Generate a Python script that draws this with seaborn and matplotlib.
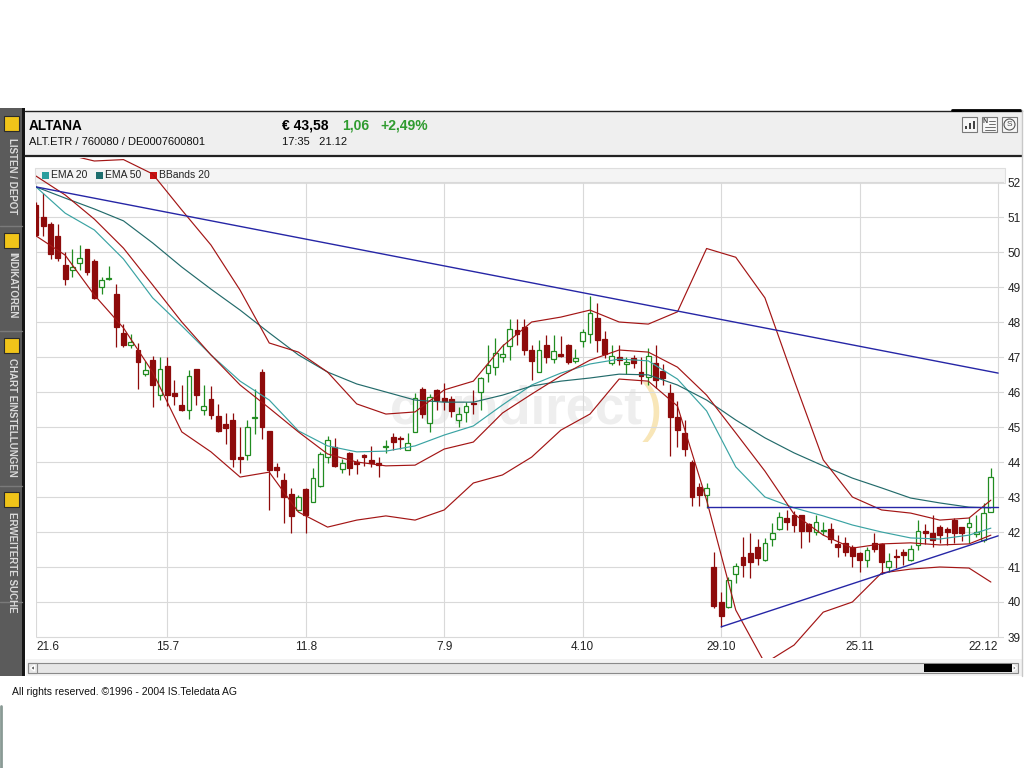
import numpy as np
import pandas as pd
import matplotlib
matplotlib.use("Agg")
import matplotlib.pyplot as plt
import seaborn as sns
from matplotlib.patches import Rectangle, Circle, Polygon

opens = [51.35, 51.0, 50.8, 50.45, 49.63, 49.49, 49.68, 50.08, 49.75, 49.01,
         49.22, 48.8, 47.7, 47.33, 47.2, 46.51, 46.91, 45.91, 46.74, 45.97,
         45.63, 45.49, 46.65, 45.49, 45.79, 45.31, 45.09, 45.2, 44.15, 44.2,
         45.25, 46.58, 44.89, 43.87, 43.49, 43.09, 42.63, 43.22, 42.87, 43.31,
         44.13, 44.42, 43.79, 44.25, 43.99, 44.2, 44.06, 43.97, 44.42, 44.72,
         44.7, 44.34, 44.87, 46.1, 45.12, 46.06, 45.83, 45.79, 45.2, 45.44,
         45.7, 46.01, 46.55, 46.71, 46.99, 47.31, 47.77, 47.87, 47.2, 46.58,
         47.34, 46.93, 47.1, 47.34, 46.89, 47.47, 47.66, 48.12, 47.51, 46.84,
         47.01, 46.8, 46.96, 46.58, 46.42, 46.82, 46.61, 45.98, 45.29, 44.82,
         44.01, 43.28, 43.06, 40.99, 40.01, 39.85, 40.8, 41.29, 41.39, 41.58,
         41.2, 41.79, 42.08, 42.39, 42.49, 42.49, 42.23, 42.01, 42.02, 42.08,
         41.66, 41.68, 41.58, 41.39, 41.2, 41.69, 41.66, 40.99, 41.32, 41.44,
         41.2, 41.63, 42.03, 41.96, 42.15, 42.08, 42.34, 42.13, 42.13, 41.94,
         41.77, 42.58]
highs = [51.42, 51.7, 50.85, 50.8, 50.0, 50.08, 50.2, 50.1, 49.8, 49.3,
         49.6, 49.1, 47.95, 47.66, 47.4, 46.9, 47.03, 47.0, 47.0, 46.34,
         46.2, 46.63, 46.66, 46.2, 46.17, 45.65, 45.39, 45.39, 45.0, 45.2,
         46.1, 46.65, 44.9, 43.98, 43.68, 43.25, 43.05, 43.25, 43.82, 44.3,
         44.74, 44.7, 44.08, 44.28, 44.1, 44.22, 44.46, 44.15, 44.63, 44.84,
         44.75, 44.82, 45.98, 46.15, 45.95, 46.1, 46.27, 45.9, 45.58, 45.72,
         46.06, 46.42, 47.34, 47.55, 47.37, 48.1, 48.1, 48.1, 47.34, 47.48,
         47.63, 47.63, 47.6, 47.36, 47.22, 47.8, 48.74, 48.53, 47.73, 47.34,
         47.33, 46.99, 47.05, 47.01, 47.25, 47.34, 46.8, 46.23, 45.75, 45.2,
         44.05, 43.41, 43.41, 41.44, 40.29, 40.71, 41.11, 41.87, 41.96, 41.8,
         41.83, 42.27, 42.58, 42.63, 42.6, 42.5, 42.27, 42.49, 42.3, 42.27,
         41.91, 41.85, 41.63, 41.44, 41.58, 41.96, 41.7, 41.39, 41.51, 41.51,
         41.63, 42.34, 42.23, 42.49, 42.2, 42.13, 42.4, 42.15, 42.44, 42.49,
         42.82, 43.82]
lows = [50.45, 50.45, 49.8, 49.75, 49.05, 49.3, 49.49, 49.35, 48.65, 48.8,
        49.2, 47.3, 47.3, 47.27, 46.1, 46.45, 45.56, 45.77, 45.6, 45.63,
        45.47, 45.22, 45.63, 45.34, 45.23, 44.86, 44.51, 43.87, 43.68, 44.06,
        44.8, 44.65, 42.63, 43.58, 42.27, 41.98, 42.6, 41.96, 42.85, 43.3,
        43.96, 43.85, 43.69, 43.63, 43.66, 43.88, 43.87, 43.58, 44.25, 44.34,
        44.37, 44.33, 44.85, 45.25, 44.87, 45.49, 45.49, 45.29, 44.99, 45.15,
        45.37, 45.49, 46.29, 46.49, 46.87, 46.91, 47.34, 47.06, 46.34, 46.56,
        46.82, 46.82, 46.99, 46.8, 46.82, 47.3, 47.41, 47.15, 46.97, 46.77,
        46.77, 46.51, 46.7, 46.23, 46.2, 46.11, 46.2, 44.17, 44.44, 44.17,
        42.74, 42.74, 42.68, 39.82, 39.28, 39.82, 40.53, 40.72, 40.68, 41.05,
        41.17, 41.6, 42.05, 42.06, 42.0, 41.53, 41.72, 41.91, 41.91, 41.69,
        41.29, 41.32, 41.01, 40.87, 40.99, 41.44, 40.8, 40.87, 40.96, 41.05,
        41.17, 41.49, 41.66, 41.58, 41.7, 41.63, 41.7, 41.75, 41.69, 41.85,
        41.72, 42.56]
closes = [50.5, 50.75, 49.95, 49.82, 49.23, 49.56, 49.82, 49.44, 48.7, 49.2,
          49.26, 47.87, 47.35, 47.42, 46.87, 46.63, 46.2, 46.65, 45.91, 45.88,
          45.5, 46.46, 45.91, 45.6, 45.34, 44.89, 44.96, 44.1, 44.08, 44.99,
          45.29, 44.99, 43.77, 43.76, 43.01, 42.46, 42.99, 42.49, 43.53, 44.23,
          44.63, 43.89, 43.96, 43.82, 43.94, 44.15, 43.96, 43.91, 44.46, 44.58,
          44.65, 44.54, 45.82, 45.37, 45.87, 45.77, 45.75, 45.47, 45.37, 45.6,
          45.65, 46.39, 46.77, 47.12, 47.1, 47.79, 47.66, 47.2, 46.89, 47.2,
          46.99, 47.17, 47.03, 46.87, 46.96, 47.72, 48.25, 47.49, 47.1, 47.03,
          46.91, 46.87, 46.82, 46.46, 47.03, 46.34, 46.39, 45.28, 44.91, 44.36,
          43.01, 43.06, 43.25, 39.89, 39.6, 40.63, 41.03, 41.06, 41.15, 41.25,
          41.68, 41.98, 42.42, 42.29, 42.2, 42.04, 42.04, 42.29, 42.06, 41.79,
          41.58, 41.42, 41.31, 41.2, 41.49, 41.51, 41.15, 41.17, 41.28, 41.34,
          41.51, 42.03, 41.96, 41.77, 41.91, 42.01, 41.96, 41.96, 42.25, 42.01,
          42.53, 43.56]

ind_idx = [0, 4, 8, 12, 16, 20, 24, 28, 32, 36, 40, 44, 48, 52, 56, 60, 64,
           68, 72, 76, 80, 84, 88, 92, 96, 100, 104, 108, 112, 116, 120, 124, 128, 131]
ema20 = [51.86, 51.11, 50.63, 49.8, 48.69, 47.89, 47.06, 46.31, 45.77, 44.89,
         44.46, 44.29, 44.31, 44.46, 44.77, 45.03, 45.63, 46.2, 46.54, 46.8,
         46.94, 46.89, 46.37, 45.46, 43.86, 43.0, 42.69, 42.46, 42.2, 42.0,
         41.83, 41.8, 41.91, 42.11]
ema50 = [51.86, 51.54, 51.23, 50.89, 50.26, 49.57, 48.94, 48.34, 47.69, 47.06,
         46.57, 46.23, 46.0, 45.77, 45.71, 45.71, 45.91, 46.17, 46.31, 46.4,
         46.51, 46.49, 46.2, 45.77, 45.2, 44.69, 44.26, 43.89, 43.54, 43.26,
         42.97, 42.83, 42.71, 42.69]
bb_upper = [52.95, 52.8, 52.6, 52.64, 52.23, 51.2, 50.2, 48.91, 47.4, 47.14,
            46.57, 45.66, 45.37, 45.43, 46.06, 46.31, 47.31, 48.0, 48.14, 48.34,
            48.0, 47.94, 48.29, 50.1, 49.85, 48.69, 46.34, 44.06, 43.0, 42.63,
            42.54, 42.34, 42.4, 42.91]
bb_mid = [52.17, 51.63, 50.94, 50.11, 49.06, 48.0, 47.06, 46.2, 45.54, 44.86,
          44.23, 44.0, 43.89, 43.91, 44.37, 44.57, 45.4, 45.94, 46.46, 46.91,
          47.2, 47.14, 46.71, 45.91, 44.83, 43.74, 42.51, 41.91, 41.54, 41.66,
          41.69, 41.63, 41.66, 41.91]
bb_lower = [50.46, 49.91, 48.77, 47.83, 46.57, 44.86, 44.29, 43.57, 43.71, 42.57,
            42.14, 42.34, 42.46, 42.34, 42.63, 43.4, 43.63, 44.14, 44.91, 45.37,
            46.37, 46.31, 45.6, 42.91, 39.77, 38.25, 38.77, 39.71, 40.0, 40.83,
            40.94, 41.0, 40.97, 40.57]

# Trendlinien (Handelstag, Kurs)
trend_down_x = [0, 132]
trend_down_y = [51.86, 46.54]
resist_x = [92, 132]
resist_y = [42.71, 42.71]
support_x = [94, 132]
support_y = [39.29, 41.89]

date_pos = [0, 18, 37, 56, 75, 94, 113, 132]
date_labels = ['21.6', '15.7', '11.8', '7.9', '4.10', '29.10', '25.11', '22.12']
price_ticks = [39, 40, 41, 42, 43, 44, 45, 46, 47, 48, 49, 50, 51, 52]

sidebar_labels = ['LISTEN / DEPOT', 'INDIKATOREN', 'CHART EINSTELLUNGEN', 'ERWEITERTE SUCHE']

ROT = '#8e0b0b'
GRUEN = '#218c21'
BLAU = '#2626a6'
BAND = '#a31515'

sns.set_theme(style="white")
plt.rcParams['font.family'] = ['Liberation Sans', 'DejaVu Sans']

fig = plt.figure(figsize=(10.24, 7.68), dpi=100)
fig.patch.set_facecolor('white')

# Hintergrund / Rahmen in Pixelkoordinaten
bg = fig.add_axes([0, 0, 1, 1])
bg.set_xlim(0, 1024)
bg.set_ylim(768, 0)
bg.axis('off')

# Seitenleiste
bg.add_patch(Rectangle((0, 108), 22, 568, facecolor='#5b5b5b', edgecolor='none'))
bg.add_patch(Rectangle((22, 108), 3, 568, facecolor='#151515', edgecolor='none'))
for y in [226, 331, 486, 602]:
    bg.plot([0, 22], [y, y], color='#7a7a7a', lw=1)
for y in [116, 233, 338, 492]:
    bg.add_patch(Rectangle((4, y), 15, 15, facecolor='#f0c419', edgecolor='#2b2b2b', lw=0.8))
for lab, y in zip(sidebar_labels, [138, 252, 358, 512]):
    bg.text(12, y, lab, rotation=270, ha='center', va='top', fontsize=7,
            fontweight='bold', color='#dadada')

# Kopfzeile
bg.add_patch(Rectangle((25, 111), 997, 44, facecolor='#efefef', edgecolor='none'))
bg.plot([25, 1022], [110.5, 110.5], color='#222222', lw=1)
bg.plot([952, 1020], [110, 110], color='black', lw=2)
bg.plot([25, 1022], [155.5, 155.5], color='#222222', lw=1.6)
bg.plot([1022, 1022], [110, 676], color='#c8c8c8', lw=1)

bg.text(29, 126, 'ALTANA', fontsize=9.8, fontweight='bold', va='center', color='black')
bg.text(29, 142, 'ALT.ETR / 760080 / DE0007600801', fontsize=8, va='center', color='#111111')
bg.text(282, 126, '€ 43,58', fontsize=10, fontweight='bold', va='center', color='black')
bg.text(342, 126, '1,06', fontsize=10, fontweight='bold', va='center', color='#2f9b2f')
bg.text(380, 126, '+2,49%', fontsize=10, fontweight='bold', va='center', color='#2f9b2f')
bg.text(282, 142, '17:35   21.12', fontsize=8, va='center', color='#111111')

# Symbole oben rechts
for x0 in [962, 982, 1002]:
    bg.add_patch(Rectangle((x0, 117), 15, 15, facecolor='#f7f7f7', edgecolor='#7a7a7a', lw=0.8))
for dx, hh in [(3, 3), (7, 6), (11, 8)]:
    bg.add_patch(Rectangle((962 + dx, 129 - hh), 2, hh, facecolor='#444444', edgecolor='none'))
bg.text(985.5, 121.5, 'N', fontsize=5, fontweight='bold', va='center', ha='center', color='#444444')
for yy in [121, 124, 127, 129.5]:
    bg.plot([989, 995] if yy < 126 else [985, 995], [yy, yy], color='#555555', lw=0.6)
bg.add_patch(Circle((1009.5, 124.5), 5.5, facecolor='none', edgecolor='#555555', lw=0.8))
bg.text(1009.5, 124.8, 'S', fontsize=6, va='center', ha='center', color='#444444')

# Legendenleiste
bg.add_patch(Rectangle((35, 168), 970, 15, facecolor='#f4f4f4', edgecolor='#dedede', lw=0.8))
for x0, col, lab in [(42, '#2a9d9d', 'EMA 20'), (96, '#1e6e6e', 'EMA 50'), (150, '#cc1111', 'BBands 20')]:
    bg.add_patch(Rectangle((x0, 172), 7, 7, facecolor=col, edgecolor='none'))
    bg.text(x0 + 9, 175.5, lab, fontsize=7.5, va='center', color='#222222')

# Wasserzeichen
bg.text(516, 410, 'comdirect', fontsize=38, fontweight='bold', color='#eeeeee',
        ha='center', va='center')
bg.text(652, 412, ')', fontsize=46, color='#f8e6b8', ha='center', va='center')

# Scrollleiste und Fußzeile
bg.add_patch(Rectangle((26, 659), 996, 17, facecolor='#f3f3f3', edgecolor='none'))
bg.add_patch(Rectangle((28, 663), 990, 10, facecolor='#e6e6e6', edgecolor='#8a8a8a', lw=0.8))
bg.add_patch(Rectangle((28, 663), 9, 10, facecolor='#e6e6e6', edgecolor='#8a8a8a', lw=0.8))
bg.add_patch(Polygon([[30.5, 668], [34.5, 665], [34.5, 671]], closed=True, facecolor='#444444'))
bg.add_patch(Rectangle((924, 664), 88, 8, facecolor='black', edgecolor='none'))
bg.add_patch(Polygon([[1016.5, 668], [1013, 665], [1013, 671]], closed=True, facecolor='#777777'))
bg.text(12, 692, 'All rights reserved. ©1996 - 2004 IS.Teledata AG', fontsize=7.5,
        va='center', ha='left', color='#111111')
bg.plot([1, 1], [706, 768], color='#8a9a95', lw=2)

# Kurschart
ax = fig.add_axes([36 / 1024, 110 / 768, 968 / 1024, 500.5 / 768])
ax.set_xlim(0, 132.8)
ax.set_ylim(38.4, 52.7)
ax.patch.set_alpha(0)
for s in ax.spines.values():
    s.set_visible(False)

ax.hlines(price_ticks, 0, 132.8, color='#d9d9d9', lw=0.8, zorder=1)
ax.vlines(date_pos, 39, 52, color='#d9d9d9', lw=0.8, zorder=1)

o = np.array(opens)
h = np.array(highs)
l = np.array(lows)
c = np.array(closes)
x = np.arange(len(c))
up = c >= o
body_lo = np.minimum(o, c)
body_h = np.maximum(np.abs(c - o), 0.03)

ax.vlines(x[up], l[up], h[up], colors=GRUEN, lw=0.9, zorder=3)
ax.vlines(x[~up], l[~up], h[~up], colors=ROT, lw=0.9, zorder=3)
ax.bar(x[up], body_h[up], bottom=body_lo[up], width=0.66, facecolor='white',
       edgecolor=GRUEN, linewidth=0.9, zorder=4)
ax.bar(x[~up], body_h[~up], bottom=body_lo[~up], width=0.66, facecolor=ROT,
       edgecolor=ROT, linewidth=0.9, zorder=4)

ind = pd.DataFrame({'idx': ind_idx, 'EMA 20': ema20, 'EMA 50': ema50,
                    'BB oben': bb_upper, 'BB mitte': bb_mid, 'BB unten': bb_lower})
ind_long = ind.melt(id_vars='idx', var_name='linie', value_name='kurs')
palette = {'EMA 20': '#3aa3a3', 'EMA 50': '#236b6b', 'BB oben': BAND,
           'BB mitte': BAND, 'BB unten': BAND}
sns.lineplot(data=ind_long, x='idx', y='kurs', hue='linie', palette=palette,
             estimator=None, sort=False, legend=False, linewidth=0.85, ax=ax, zorder=5)

ax.plot(trend_down_x, trend_down_y, color=BLAU, lw=1.0, zorder=6)
ax.plot(resist_x, resist_y, color=BLAU, lw=1.0, zorder=6)
ax.plot(support_x, support_y, color=BLAU, lw=1.0, zorder=6)

ax.set_xlabel('')
ax.set_ylabel('')
ax.set_xticks([])
ax.set_yticks(price_ticks)
ax.set_yticklabels([str(t) for t in price_ticks])
ax.yaxis.tick_right()
ax.tick_params(axis='y', length=0, pad=2.5, labelsize=8.5, labelcolor='#222222')

for pos, lab in zip(date_pos, date_labels):
    ha = 'left' if pos == date_pos[0] else ('right' if pos == date_pos[-1] else 'center')
    ax.text(pos, 38.72, lab, ha=ha, va='center', fontsize=8.5, color='#222222')

fig.savefig('out.png', dpi=100, facecolor='white')
